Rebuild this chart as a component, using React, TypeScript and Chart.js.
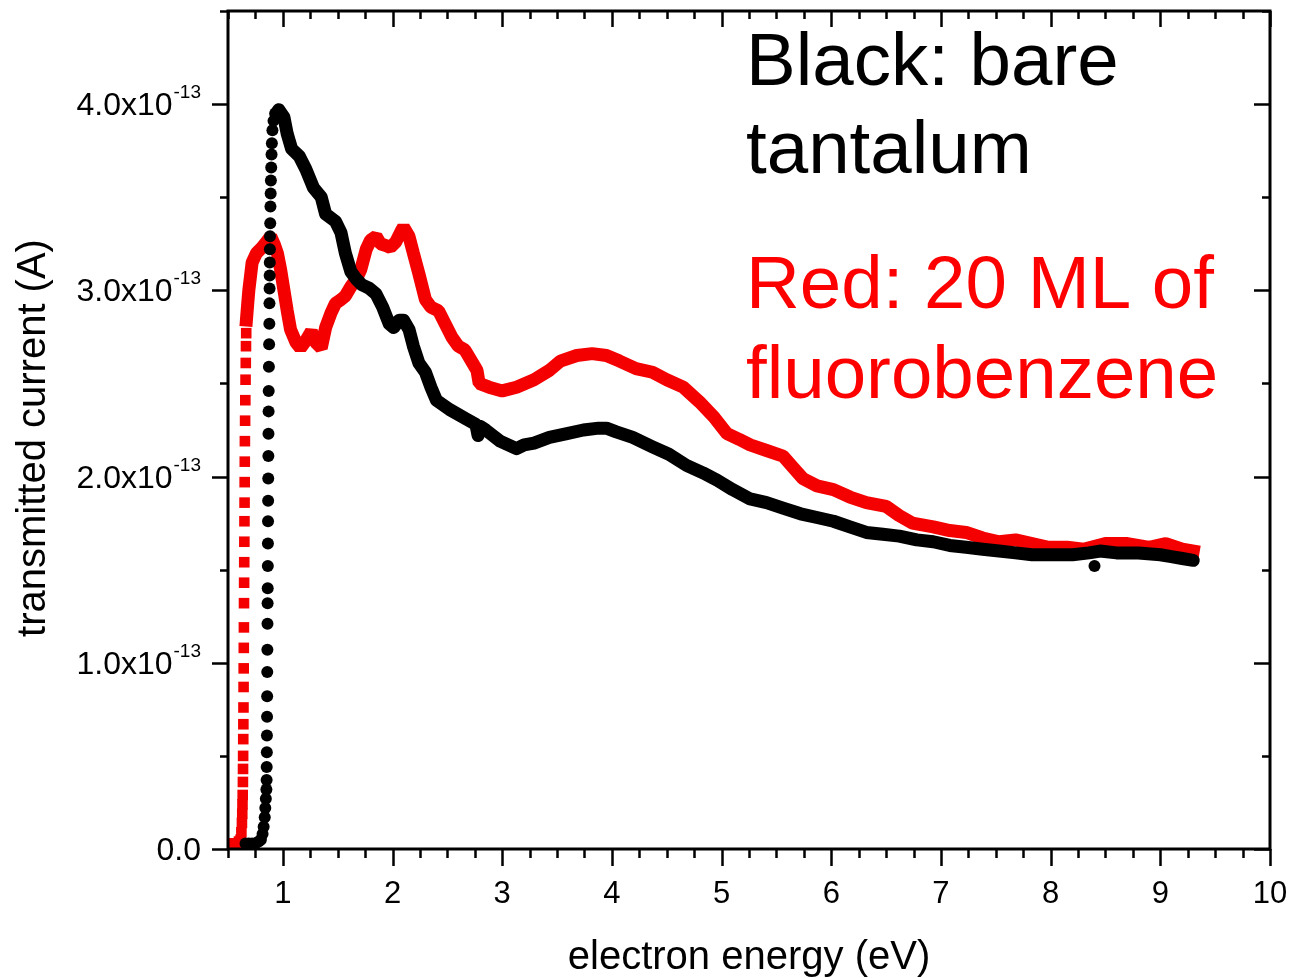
import { useEffect, useRef } from 'react';
import { Chart, registerables } from 'chart.js';

Chart.register(...registerables);

// Bare tantalum: steep onset, sampled as separate dots
const blackOnsetEnergy = [
  0.66, 0.69, 0.72, 0.75, 0.78, 0.8, 0.815, 0.825, 0.835, 0.84, 0.845, 0.85, 0.852, 0.853, 0.854, 0.855,
  0.856, 0.857, 0.858, 0.859, 0.86, 0.861, 0.862, 0.863, 0.864, 0.865, 0.866, 0.867, 0.868, 0.869, 0.87,
  0.871, 0.873, 0.875, 0.877, 0.878, 0.879, 0.88, 0.881, 0.882, 0.883, 0.885, 0.887, 0.889, 0.891, 0.894,
  0.897, 0.9, 0.905, 0.915, 0.93,
];
const blackOnsetCurrent = [
  0.03, 0.03, 0.03, 0.03, 0.04, 0.05, 0.08, 0.12, 0.17, 0.22, 0.27, 0.32, 0.37, 0.44, 0.52, 0.61,
  0.71, 0.82, 0.95, 1.07, 1.21, 1.32, 1.4, 1.52, 1.64, 1.76, 1.87, 1.99, 2.11, 2.23, 2.35,
  2.46, 2.59, 2.71, 2.82, 2.93, 3.01, 3.08, 3.15, 3.22, 3.29, 3.36, 3.45, 3.52, 3.59, 3.66,
  3.73, 3.79, 3.86, 3.91, 3.95,
];

// Bare tantalum: continuous part of the spectrum
const blackEnergy = [
  0.94, 0.963, 1.01, 1.04, 1.08, 1.15, 1.21, 1.28, 1.35, 1.39, 1.48, 1.53, 1.57, 1.62, 1.67, 1.72, 1.79,
  1.85, 1.91, 1.97, 2.01, 2.06, 2.1, 2.15, 2.19, 2.24, 2.3, 2.35, 2.4, 2.52, 2.67, 2.76, 2.78, 2.8, 2.85,
  2.98, 3.13, 3.2, 3.29, 3.43, 3.59, 3.74, 3.88, 3.95, 4.04, 4.19, 4.37, 4.52, 4.68, 4.83, 4.96, 5.1,
  5.26, 5.41, 5.56, 5.72, 5.87, 6.02, 6.17, 6.32, 6.47, 6.62, 6.78, 6.93, 7.08, 7.23, 7.38, 7.53, 7.68,
  7.83, 7.98, 8.2, 8.35, 8.45, 8.6, 8.8, 9.0, 9.1, 9.2, 9.3,
];
const blackCurrent = [
  3.95, 3.97, 3.93, 3.84, 3.76, 3.72, 3.65, 3.55, 3.5, 3.41, 3.37, 3.31, 3.2, 3.1, 3.06, 3.03, 3.01,
  2.98, 2.91, 2.82, 2.8, 2.84, 2.84, 2.79, 2.7, 2.61, 2.56, 2.48, 2.41, 2.36, 2.31, 2.28, 2.22, 2.27, 2.25,
  2.19, 2.15, 2.17, 2.18, 2.21, 2.23, 2.25, 2.26, 2.26, 2.24, 2.21, 2.16, 2.12, 2.06, 2.02, 1.98, 1.93,
  1.88, 1.86, 1.83, 1.8, 1.78, 1.76, 1.73, 1.7, 1.69, 1.68, 1.66, 1.65, 1.63, 1.62, 1.61, 1.6, 1.59,
  1.58, 1.58, 1.58, 1.59, 1.6, 1.59, 1.59, 1.58, 1.57, 1.56, 1.55,
];

// Bare tantalum: single stray reading
const blackStrayEnergy = [8.4];
const blackStrayCurrent = [1.52];

// 20 ML fluorobenzene: steep onset, sampled as separate squares
const redOnsetEnergy = [
  0.5, 0.52, 0.54, 0.56, 0.58, 0.6, 0.615, 0.622, 0.627, 0.63, 0.632, 0.634, 0.636, 0.637, 0.638, 0.639,
  0.64, 0.641, 0.642, 0.643, 0.644, 0.645, 0.646, 0.647, 0.648, 0.649, 0.65, 0.651, 0.652, 0.653, 0.654,
  0.656, 0.658, 0.66, 0.662, 0.664, 0.666,
];
const redOnsetCurrent = [
  0.03, 0.03, 0.03, 0.03, 0.03, 0.04, 0.05, 0.09, 0.14, 0.19, 0.24, 0.29, 0.36, 0.43, 0.5, 0.59,
  0.67, 0.76, 0.87, 0.97, 1.08, 1.19, 1.32, 1.43, 1.54, 1.65, 1.76, 1.86, 1.97, 2.08, 2.19,
  2.3, 2.41, 2.52, 2.61, 2.7, 2.77,
];

// 20 ML fluorobenzene: continuous part of the spectrum
const redEnergy = [
  0.668, 0.68, 0.69, 0.72, 0.76, 0.81, 0.85, 0.89, 0.92, 0.95, 0.98, 1.01, 1.04, 1.07, 1.12, 1.16, 1.21,
  1.26, 1.3, 1.35, 1.39, 1.44, 1.48, 1.53, 1.57, 1.62, 1.67, 1.71, 1.76, 1.8, 1.85, 1.89, 1.94, 1.98,
  2.03, 2.08, 2.1, 2.15, 2.19, 2.24, 2.3, 2.35, 2.42, 2.48, 2.54, 2.6, 2.66, 2.72, 2.77, 2.79, 2.88,
  3.0, 3.13, 3.29, 3.43, 3.53, 3.68, 3.82, 3.95, 4.07, 4.22, 4.37, 4.5, 4.65, 4.8, 4.93, 5.05, 5.16,
  5.26, 5.41, 5.56, 5.65, 5.74, 5.87, 6.02, 6.17, 6.32, 6.5, 6.62, 6.74, 6.93, 7.08, 7.23, 7.38, 7.53,
  7.68, 7.83, 7.98, 8.15, 8.3, 8.5, 8.7, 8.9, 9.05, 9.2, 9.3,
];
const redCurrent = [
  2.84, 2.93, 3.0, 3.15, 3.2, 3.23, 3.26, 3.29, 3.25, 3.2, 3.11, 3.0, 2.89, 2.79, 2.72, 2.69, 2.73,
  2.78, 2.72, 2.69, 2.8, 2.88, 2.93, 2.95, 2.97, 3.02, 3.06, 3.11, 3.22, 3.27, 3.29, 3.25, 3.24, 3.23,
  3.26, 3.32, 3.34, 3.29, 3.2, 3.09, 2.95, 2.91, 2.89, 2.82, 2.75, 2.7, 2.68, 2.62, 2.57, 2.5, 2.48,
  2.46, 2.48, 2.52, 2.57, 2.62, 2.65, 2.66, 2.65, 2.62, 2.58, 2.56, 2.52, 2.48, 2.4, 2.32, 2.23, 2.2,
  2.17, 2.14, 2.11, 2.05, 1.99, 1.95, 1.93, 1.89, 1.86, 1.84, 1.79, 1.75, 1.73, 1.71, 1.7, 1.67, 1.65,
  1.66, 1.64, 1.62, 1.62, 1.61, 1.64, 1.64, 1.62, 1.64, 1.61, 1.6,
];

// Axes (current in units of 1e-13 A)
const xRange = [0.5, 10];
const yRange = [0, 4.5];
const xTickValues = [1, 2, 3, 4, 5, 6, 7, 8, 9, 10];
const yTickValues = [0, 1, 2, 3, 4];
const xMinorStep = 0.25;
const yMinorStep = 0.5;

const xTitle = 'electron energy (eV)';
const yTitle = 'transmitted current (A)';
const blackNote = ['Black: bare', 'tantalum'];
const redNote = ['Red: 20 ML of', 'fluorobenzene'];

const BLACK = '#000000';
const RED = '#f50000';
const FONT = '"Liberation Sans", Arial, sans-serif';

const toPoints = (xs: number[], ys: number[]) => xs.map((x, i) => ({ x, y: ys[i] }));

const axesPlugin = {
  id: 'originAxes',
  afterDatasetsDraw(chart: any) {
    const { ctx, chartArea: a, scales } = chart;
    const xs = scales.x;
    const ys = scales.y;
    ctx.save();

    // frame
    ctx.strokeStyle = '#000';
    ctx.lineWidth = 3;
    ctx.strokeRect(a.left, a.top, a.right - a.left, a.bottom - a.top);

    // x ticks: outward at bottom, inward at top
    ctx.lineWidth = 2.5;
    ctx.beginPath();
    for (let v = xRange[0]; v <= xRange[1] + 1e-9; v += xMinorStep) {
      const px = Math.round(xs.getPixelForValue(v)) + 0.5;
      const major = Math.abs(v - Math.round(v)) < 1e-6;
      ctx.moveTo(px, a.bottom);
      ctx.lineTo(px, a.bottom + (major ? 17 : 9));
      ctx.moveTo(px, a.top);
      ctx.lineTo(px, a.top + (major ? 16 : 8));
    }
    // y ticks: outward at left, inward at right
    for (let v = yRange[0]; v <= yRange[1] + 1e-9; v += yMinorStep) {
      const py = Math.round(ys.getPixelForValue(v)) + 0.5;
      const major = Math.abs(v - Math.round(v)) < 1e-6;
      const len = major ? 16 : 8;
      ctx.moveTo(a.left, py);
      ctx.lineTo(a.left - len, py);
      ctx.moveTo(a.right, py);
      ctx.lineTo(a.right - len, py);
    }
    ctx.stroke();

    ctx.fillStyle = '#000';
    // x tick labels
    ctx.font = `31px ${FONT}`;
    ctx.textAlign = 'center';
    ctx.textBaseline = 'middle';
    for (const v of xTickValues) {
      ctx.fillText(String(v), xs.getPixelForValue(v), a.bottom + 45);
    }

    // y tick labels with power-of-ten superscript
    const rightEdge = a.left - 27;
    ctx.textBaseline = 'alphabetic';
    for (const v of yTickValues) {
      const py = ys.getPixelForValue(v);
      if (v === 0) {
        ctx.font = `32px ${FONT}`;
        ctx.textAlign = 'right';
        ctx.fillText('0.0', rightEdge, py + 11);
        continue;
      }
      const main = `${v.toFixed(1)}x10`;
      const sup = '-13';
      ctx.font = `19px ${FONT}`;
      const supW = ctx.measureText(sup).width;
      ctx.textAlign = 'right';
      ctx.fillText(sup, rightEdge, py - 6);
      ctx.font = `32px ${FONT}`;
      ctx.fillText(main, rightEdge - supW - 1, py + 11);
    }

    // axis titles
    ctx.font = `40px ${FONT}`;
    ctx.textAlign = 'center';
    ctx.textBaseline = 'middle';
    ctx.fillText(xTitle, (a.left + a.right) / 2, 958);
    ctx.save();
    ctx.translate(34, 438);
    ctx.rotate(-Math.PI / 2);
    ctx.fillText(yTitle, 0, 0);
    ctx.restore();

    // series notes
    ctx.font = `74.5px ${FONT}`;
    ctx.textAlign = 'left';
    ctx.textBaseline = 'alphabetic';
    ctx.fillStyle = '#000';
    ctx.fillText(blackNote[0], 746, 85);
    ctx.fillText(blackNote[1], 746, 173);
    ctx.fillStyle = '#ff0000';
    ctx.fillText(redNote[0], 746, 308);
    ctx.fillText(redNote[1], 746, 398);

    ctx.restore();
  },
};

export default function App() {
  const canvasRef = useRef<HTMLCanvasElement>(null);

  useEffect(() => {
    const canvas = canvasRef.current;
    if (!canvas) return;
    const chart = new Chart(canvas, {
      type: 'scatter',
      data: {
        datasets: [
          {
            label: 'bare tantalum onset',
            data: toPoints(blackOnsetEnergy, blackOnsetCurrent),
            showLine: false,
            pointStyle: 'circle',
            pointRadius: 6,
            pointBorderWidth: 0,
            backgroundColor: BLACK,
            borderColor: BLACK,
          },
          {
            label: 'bare tantalum',
            data: toPoints(blackEnergy, blackCurrent),
            showLine: true,
            pointRadius: 0,
            borderColor: BLACK,
            borderWidth: 13,
            borderJoinStyle: 'round',
            borderCapStyle: 'round',
            tension: 0,
          },
          {
            label: 'bare tantalum stray',
            data: toPoints(blackStrayEnergy, blackStrayCurrent),
            showLine: false,
            pointStyle: 'circle',
            pointRadius: 6,
            pointBorderWidth: 0,
            backgroundColor: BLACK,
            borderColor: BLACK,
          },
          {
            label: '20 ML fluorobenzene onset',
            data: toPoints(redOnsetEnergy, redOnsetCurrent),
            showLine: false,
            pointStyle: 'rect',
            pointRadius: 7.5,
            pointBorderWidth: 0,
            backgroundColor: RED,
            borderColor: RED,
          },
          {
            label: '20 ML fluorobenzene',
            data: toPoints(redEnergy, redCurrent),
            showLine: true,
            pointRadius: 0,
            borderColor: RED,
            borderWidth: 13,
            borderJoinStyle: 'bevel',
            borderCapStyle: 'square',
            tension: 0,
          },
        ],
      },
      options: {
        responsive: false,
        animation: false,
        events: [],
        layout: { padding: { left: 228, right: 23, top: 11, bottom: 129 } },
        scales: {
          x: { type: 'linear', min: xRange[0], max: xRange[1], display: false },
          y: { type: 'linear', min: yRange[0], max: yRange[1], display: false },
        },
        plugins: {
          legend: { display: false },
          tooltip: { enabled: false },
        },
      },
      plugins: [axesPlugin],
    });
    return () => chart.destroy();
  }, []);

  return (
    <div style={{ position: 'fixed', left: 0, top: 0, width: 1293, height: 978, background: '#fff' }}>
      <canvas ref={canvasRef} width={1293} height={978} style={{ display: 'block' }} />
    </div>
  );
}
